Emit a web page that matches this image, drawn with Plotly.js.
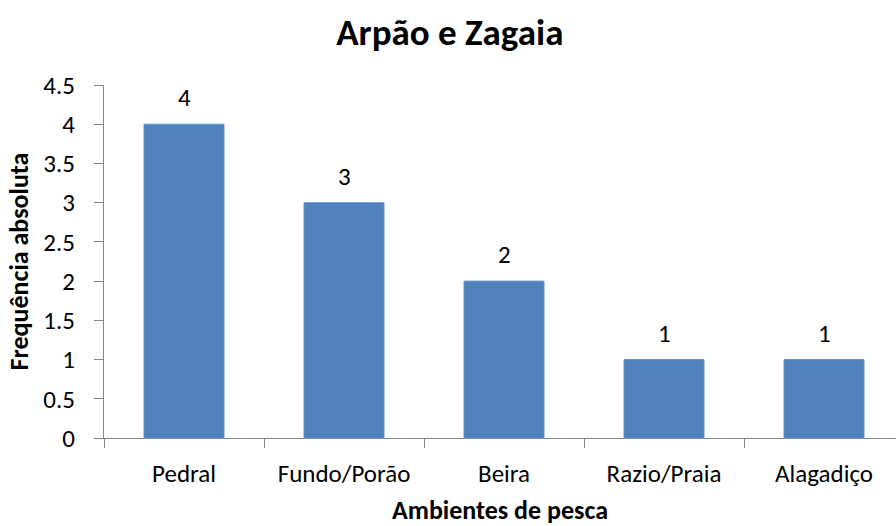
<!DOCTYPE html>
<html>
<head>
<meta charset="utf-8">
<script src="https://cdn.plot.ly/plotly-3.0.1.min.js"></script>
<style>html,body{margin:0;padding:0;background:#fff;}#chart{width:896px;height:526px;}</style>
</head>
<body>
<div id="chart"></div>
<script>
const categories = ["Pedral", "Fundo/Porão", "Beira", "Razio/Praia", "Alagadiço"];
const values = [4, 3, 2, 1, 1];
const yTicks = [0, 0.5, 1, 1.5, 2, 2.5, 3, 3.5, 4, 4.5];
const yTickLabels = ["0", "0.5", "1", "1.5", "2", "2.5", "3", "3.5", "4", "4.5"];

const FONT = "Carlito, Calibri, Lato, sans-serif";

const trace = {
  type: "bar",
  x: categories,
  y: values,
  marker: { color: "#4F81BD", line: { color: "#6A95C9", width: 1 } },
  hoverinfo: "x+y"
};

const annotations = categories.map((c, i) => ({
  x: c, y: values[i], xref: "x", yref: "y",
  text: String(values[i]), showarrow: false,
  yanchor: "bottom", yshift: 9,
  font: { family: FONT, size: 25, color: "#000" }
}));

const layout = {
  width: 896, height: 526,
  margin: { l: 104, r: 0, t: 85, b: 88 },
  paper_bgcolor: "#fff", plot_bgcolor: "#fff",
  font: { family: FONT, color: "#000" },
  title: { text: "<b>Arpão e Zagaia</b>", x: 0.502, xanchor: "center", y: 0.94, yanchor: "middle",
           font: { family: FONT, size: 37, color: "#000" } },
  bargap: 0.5,
  showlegend: false,
  xaxis: {
    type: "category",
    range: [-0.5, 4.45],
    showline: true, linecolor: "#868686", linewidth: 1,
    ticks: "outside", tickson: "boundaries", ticklen: 9, tickcolor: "#868686",
    showgrid: false, zeroline: false,
    tickfont: { family: FONT, size: 25, color: "#000" },
    ticklabelstandoff: 13,
    title: { text: "<b>Ambientes de pesca</b>", font: { family: FONT, size: 26, color: "#000" }, standoff: 22 },
    fixedrange: true
  },
  yaxis: {
    range: [0, 4.5],
    tickvals: yTicks, ticktext: yTickLabels,
    showline: true, linecolor: "#868686", linewidth: 1,
    ticks: "outside", ticklen: 9, tickcolor: "#868686",
    showgrid: false, zeroline: false,
    tickfont: { family: FONT, size: 25, color: "#000" },
    ticklabelstandoff: 14,
    title: { text: "<b>Frequência absoluta</b>", font: { family: FONT, size: 26, color: "#000" }, standoff: 7 },
    fixedrange: true
  },
  annotations: annotations
};

Plotly.newPlot("chart", [trace], layout, { displayModeBar: false, staticPlot: true });
</script>
</body>
</html>
